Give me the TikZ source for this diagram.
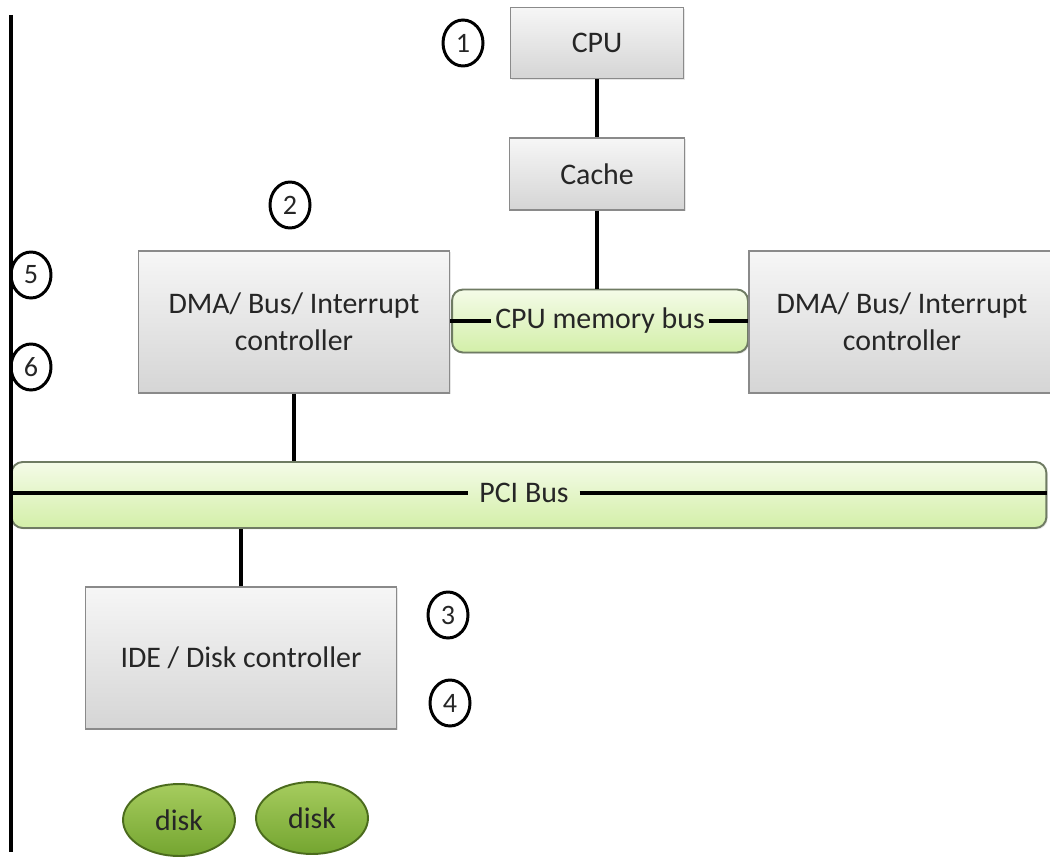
\documentclass[tikz,border=0pt]{standalone}
\usepackage{fontspec}
\setmainfont{Carlito}
\usetikzlibrary{shapes.geometric,shadows}

\definecolor{boxline}{HTML}{8A8A8A}
\definecolor{bustop}{HTML}{F4FBE8}
\definecolor{busbot}{HTML}{D3EFA8}
\definecolor{busline}{HTML}{6F7B63}
\definecolor{disktop}{HTML}{A6CC5E}
\definecolor{diskbot}{HTML}{74A530}
\definecolor{diskline}{HTML}{4B6B1D}
\definecolor{ink}{HTML}{262626}

\begin{document}
\begin{tikzpicture}[x=0.02cm, y=-0.02cm,
		font=\fontsize{17}{21}\selectfont, text=ink,
		unit/.style={rectangle, draw=boxline, line width=0.8pt, top color=gray!7, bottom color=gray!33,
			drop shadow={opacity=0.2, shadow xshift=0.8pt, shadow yshift=-0.8pt}, align=center},
		bus/.style={rectangle, rounded corners=0.22cm, draw=busline, line width=1.1pt, top color=bustop, bottom color=busbot,
			drop shadow={opacity=0.2, shadow xshift=0.8pt, shadow yshift=-0.8pt}},
		disk/.style={ellipse, draw=diskline, line width=1.1pt, top color=disktop, bottom color=diskbot,
			minimum width=2.24cm, minimum height=1.44cm, inner sep=0pt},
		step num/.style={ellipse, draw=black, line width=1.7pt, minimum width=0.8cm, minimum height=0.92cm,
			inner sep=0pt, font=\fontsize{16}{18}\selectfont},
		wire/.style={line width=2.2pt, draw=black}]
			\useasboundingbox (0,0) rectangle (1050,858);

			\node[unit, minimum width=3.46cm, minimum height=1.42cm] (cpu) at (597,43) {CPU};
			\node[unit, minimum width=3.5cm, minimum height=1.44cm] (cache) at (597,174) {Cache};
			\node[bus, minimum width=5.92cm, minimum height=1.26cm] (membus) at (600,321) {};
			\node[unit, minimum width=6.22cm, minimum height=2.84cm] (dmaL) at (294,322) {DMA/ Bus/ Interrupt\\controller};
			\node[unit, minimum width=6.12cm, minimum height=2.84cm] (dmaR) at (902,322) {DMA/ Bus/ Interrupt\\controller};
			\node[bus, minimum width=20.7cm, minimum height=1.32cm] (pci) at (529,495) {};
			\node[unit, minimum width=6.22cm, minimum height=2.84cm] (ide) at (241,658) {IDE / Disk controller};
			\node[disk] (disk1) at (179,820) {disk};
			\node[disk] (disk2) at (312,818) {disk};

			\node[inner sep=2pt] (memlbl) at (membus.center) {CPU memory bus};
			\node[inner sep=6pt] (pcilbl) at (524,493) {PCI Bus};

			\node[step num] (n1) at (463,43) {1};
			\node[step num] (n2) at (290,205) {2};
			\node[step num] (n3) at (448,615) {3};
			\node[step num] (n4) at (450,703) {4};
			\node[step num] (n5) at (31,275) {5};
			\node[step num] (n6) at (31,367) {6};

			\coordinate (railtop) at (11,15);
			\coordinate (railbot) at (11,852);
			\coordinate (pcileft) at (11,493);
			\coordinate (pciright) at (1047,493);

			\path[wire]
				(railtop) edge (railbot)
				(cpu) edge (cache)
				(cache.south) edge (cache.south |- membus.north)
				(dmaL.east |- memlbl) edge (memlbl)
				(memlbl) edge (dmaR.west |- memlbl)
				(dmaL.south) edge (dmaL.south |- pci.north)
				(pcileft) edge (pcilbl)
				(pcilbl) edge (pciright)
				(ide.north) edge (ide.north |- pci.south)
			;
		\end{tikzpicture}
\end{document}
